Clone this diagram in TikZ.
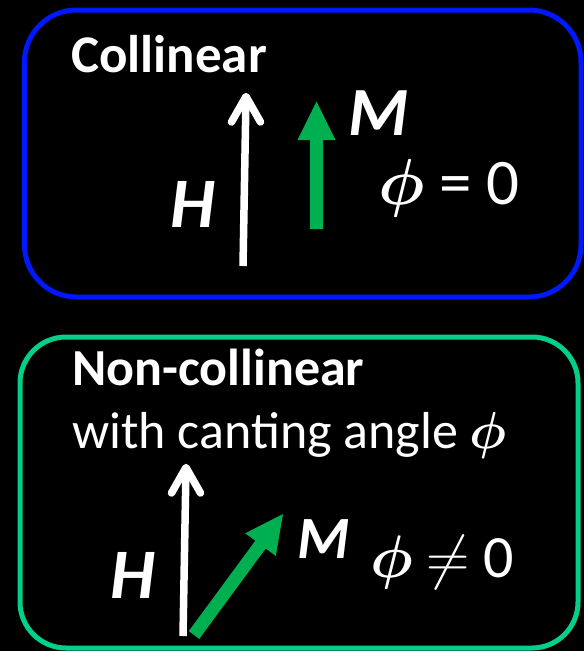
\documentclass[tikz,border=0pt]{standalone}
\usepackage{fix-cm}
\usepackage{bm}
\usepackage{fontspec}
\setmainfont{Carlito}
\definecolor{boxblue}{RGB}{0,24,255}
\definecolor{boxmint}{RGB}{0,208,138}
\definecolor{mgreen}{RGB}{0,176,80}
\newcommand{\myphi}{$\bm{\phi}$}
\begin{document}
\begin{tikzpicture}[x=1pt,y=-1pt,
  box/.style={line width=5pt},
  lbl/.style={text=white, inner sep=0pt, anchor=base west},
  hshaft/.style={white, line width=7.5pt},
  hhead/.style={white, line width=7.5pt, line cap=round, line join=round},
  marrow/.style={fill=mgreen}]
\fill[black] (0,0) rectangle (584,651);
\useasboundingbox (0,0) rectangle (584,651);
% boxes
\draw[box, draw=boxblue, rounded corners=52pt] (24.5,10) rectangle (581,297);
\draw[box, draw=boxmint, rounded corners=46pt] (20,337) rectangle (578,648);
% top panel
\node[lbl, font={\fontsize{53}{60}\selectfont\bfseries}] (t1) at (71,72) {Collinear};
\coordinate (h1b) at (243,266);
\coordinate (h1t) at (246,97);
\draw[hshaft] (h1b) -- (h1t);
\draw[hhead] (231.5,122) -- (246,96.5) -- (260.5,122);
\fill[marrow] (310,229) -- (310,140) -- (297.5,140) -- (316.5,101.5) -- (335.5,140) -- (323,140) -- (323,229) -- cycle;
\node[lbl, font={\fontsize{71}{80}\selectfont\bfseries\itshape}] (h1) at (170,227) {H};
\node[lbl, font={\fontsize{69}{80}\selectfont\bfseries\itshape}] (m1) at (348,135) {M};
\node[lbl, font={\fontsize{65}{70}\selectfont}] (p1) at (378,204) {\myphi{} = 0};
% bottom panel
\node[lbl, font={\fontsize{52}{60}\selectfont\bfseries}] (t2) at (72,385) {Non-collinear};
\node[lbl, font={\fontsize{52}{60}\selectfont}] (t3) at (72,448) {with canting angle \myphi};
\coordinate (h2b) at (183,636);
\coordinate (h2t) at (186,468);
\draw[hshaft] (h2b) -- (h2t);
\draw[hhead] (171.5,493) -- (186,467.5) -- (200.5,493);
\fill[marrow] (188.8,631.1) -- (255.3,540.7) -- (245.2,533.3) -- (283,514) -- (275.8,555.9) -- (265.7,548.5) -- (199.2,638.9) -- cycle;
\node[lbl, font={\fontsize{71}{80}\selectfont\bfseries\itshape}] (h2) at (110,598) {H};
\node[lbl, font={\fontsize{60}{70}\selectfont\bfseries\itshape}] (m2) at (297,558) {M};
\node[lbl, font={\fontsize{60}{70}\selectfont}] (p2) at (370,577) {\myphi{} $\neq$ 0};
\end{tikzpicture}
\end{document}
